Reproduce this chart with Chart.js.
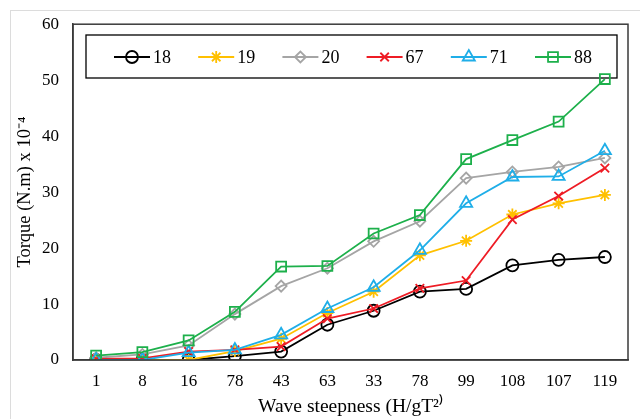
<!DOCTYPE html>
<html>
<head>
<meta charset="utf-8">
<script src="https://cdn.jsdelivr.net/npm/chart.js@4.4.1/dist/chart.umd.min.js"></script>
<style>
  html, body { margin: 0; padding: 0; background: #fff; }
  #wrap { position: relative; width: 640px; height: 419px; }
  #frame { position: absolute; left: 10px; top: 10px; width: 640px; height: 420px; border: 1px solid #dcdcdc; box-sizing: border-box; pointer-events: none; }
</style>
</head>
<body>
<div id="wrap">
  <canvas id="chart" width="640" height="419"></canvas>
  <div id="frame"></div>
</div>
<script>
const steepness = ['1', '8', '16', '78', '43', '63', '33', '78', '99', '108', '107', '119'];
const seriesNames = ['18', '19', '20', '67', '71', '88'];

const torque18 = [0, 0, 0, 0.7, 1.5, 6.3, 8.8, 12.2, 12.7, 16.9, 17.9, 18.4];
const torque19 = [0, 0, 0, 1.6, 3.8, 8.4, 12.2, 18.7, 21.3, 26.0, 28.0, 29.5];
const torque20 = [0.4, 1.0, 2.6, 8.2, 13.2, 16.4, 21.2, 24.8, 32.5, 33.6, 34.5, 36.1];
const torque67 = [0.2, 0.3, 1.5, 1.8, 2.4, 7.4, 9.2, 12.8, 14.2, 25.1, 29.3, 34.3];
const torque71 = [0, 0, 1.3, 1.8, 4.5, 9.2, 13.0, 19.6, 28.0, 32.7, 32.8, 37.4];
const torque88 = [0.8, 1.4, 3.5, 8.6, 16.7, 16.8, 22.6, 25.9, 35.9, 39.3, 42.6, 50.2];

const colors = ['#000000', '#FFC000', '#A5A5A5', '#EE1C25', '#1FAEE8', '#1DB04B'];
const styles = ['circle', 'star', 'rectRot', 'crossRot', 'triangle', 'rect'];
const radii = [6, 6, 5.5, 6, 7, 7];
const values = [torque18, torque19, torque20, torque67, torque71, torque88];

const serif = '"Liberation Serif", "Times New Roman", serif';

const datasets = seriesNames.map((name, i) => ({
  label: name,
  data: values[i],
  borderColor: colors[i],
  backgroundColor: 'rgba(0,0,0,0)',
  borderWidth: 1.8,
  pointStyle: styles[i],
  pointRadius: radii[i],
  pointBorderColor: colors[i],
  pointBackgroundColor: 'rgba(0,0,0,0)',
  pointBorderWidth: 1.8,
  tension: 0,
  order: seriesNames.length - i
}));

const frameAndLegend = {
  id: 'frameAndLegend',
  beforeDatasetsDraw(chart) {
    const ctx = chart.ctx;
    ctx.save();
    // legend box
    ctx.fillStyle = '#fff';
    ctx.fillRect(86, 35, 531, 43);
    ctx.strokeStyle = '#000';
    ctx.lineWidth = 1.3;
    ctx.strokeRect(86, 35, 531, 43);
    const cy = 57;
    ctx.textBaseline = 'middle';
    ctx.textAlign = 'left';
    chart.data.datasets.forEach((ds, i) => {
      const cx = 132 + i * 84.2;
      ctx.strokeStyle = ds.borderColor;
      ctx.lineWidth = 1.8;
      ctx.beginPath();
      ctx.moveTo(cx - 18, cy);
      ctx.lineTo(cx + 18, cy);
      ctx.stroke();
      ctx.fillStyle = 'rgba(0,0,0,0)';
      Chart.helpers.drawPoint(ctx, {
        pointStyle: ds.pointStyle,
        radius: ds.pointRadius,
        rotation: 0,
        borderWidth: 1.8
      }, cx, cy);
      ctx.fillStyle = '#000';
      ctx.font = '18px ' + serif;
      ctx.fillText(ds.label, cx + 21, cy + 1);
    });
    ctx.restore();
  },
  afterDraw(chart) {
    const ctx = chart.ctx;
    const a = chart.chartArea;
    ctx.save();
    ctx.strokeStyle = '#3a3a3a';
    ctx.lineWidth = 1.5;
    ctx.strokeRect(a.left, a.top, a.right - a.left, a.bottom - a.top);
    ctx.restore();
  }
};

new Chart(document.getElementById('chart'), {
  type: 'line',
  data: { labels: steepness, datasets },
  options: {
    responsive: false,
    animation: false,
    events: [],
    layout: { padding: { left: 0, top: 24, right: 12, bottom: 0 } },
    plugins: {
      legend: { display: false },
      tooltip: { enabled: false }
    },
    scales: {
      x: {
        offset: true,
        grid: { display: false, drawTicks: false },
        border: { display: true, color: '#3a3a3a', width: 1.5 },
        ticks: { color: '#000', padding: 11, font: { family: serif, size: 17 }, maxRotation: 0, autoSkip: false },
        title: { display: true, text: 'Wave steepness (H/gT\u00B2\u207E', color: '#000', font: { family: serif, size: 19.5 }, padding: { top: 1, bottom: 0 } },
        afterFit(s) { s.height = 59; }
      },
      y: {
        min: 0,
        max: 60,
        grid: { display: false, drawTicks: false },
        border: { display: true, color: '#3a3a3a', width: 1.5 },
        ticks: { stepSize: 10, color: '#000', padding: 14, font: { family: serif, size: 17 } },
        title: { display: true, text: 'Torque (N.m) x 10\u207B\u2074', color: '#000', font: { family: serif, size: 18.5 }, padding: { top: 14, bottom: 0 } },
        afterFit(s) { s.width = 73; }
      }
    }
  },
  plugins: [frameAndLegend]
});
</script>
</body>
</html>
